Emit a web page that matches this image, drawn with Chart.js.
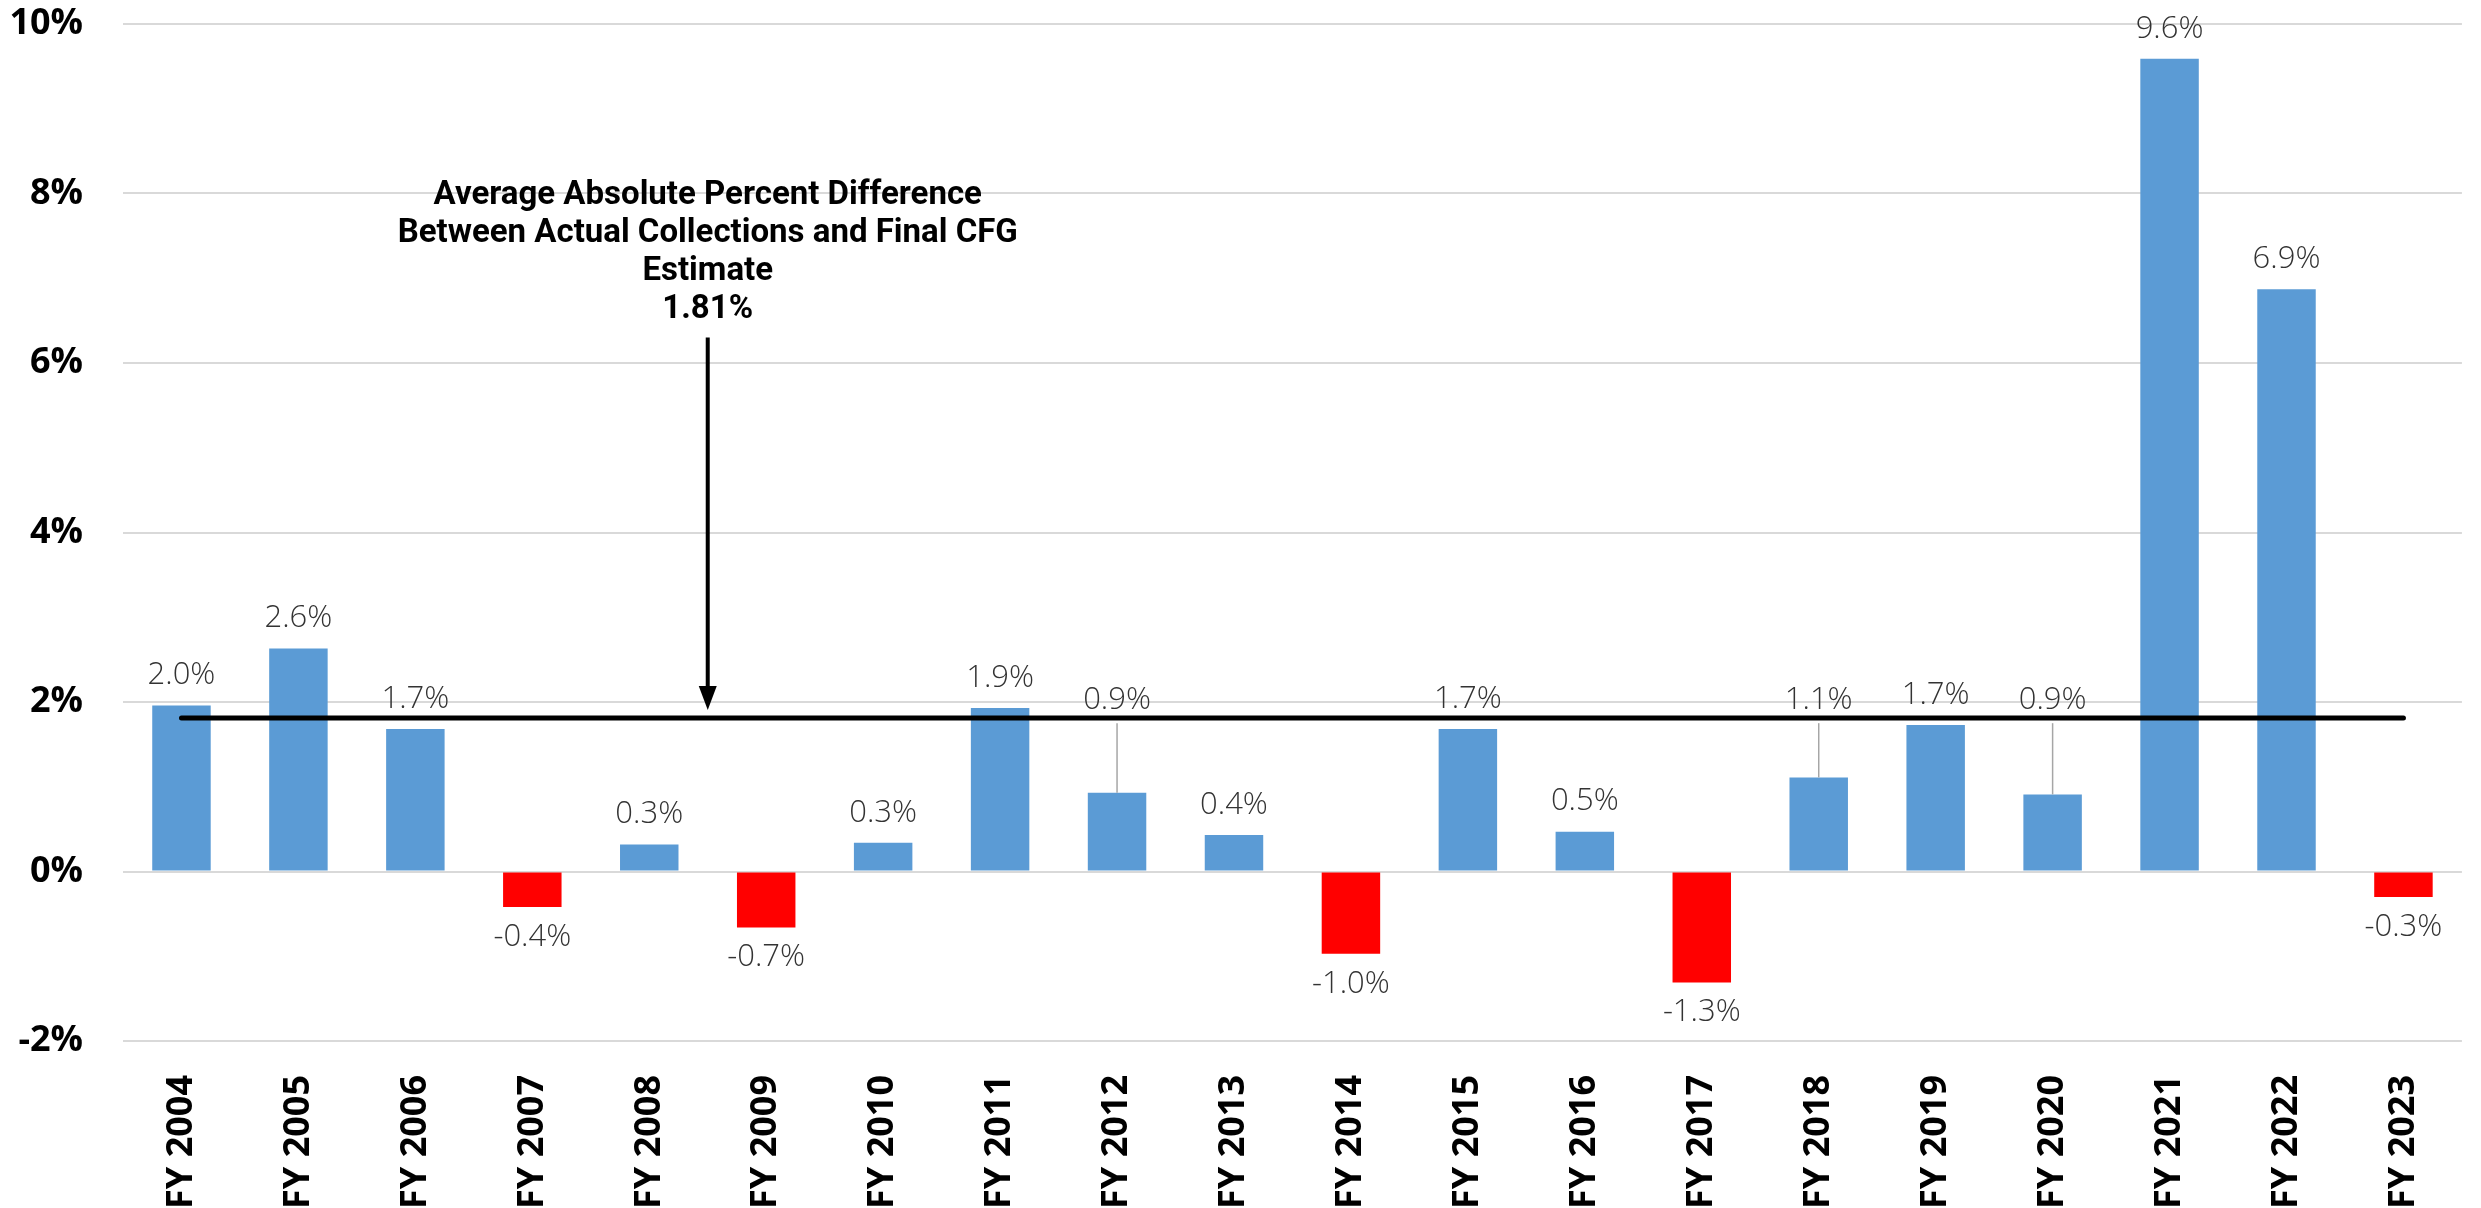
<!DOCTYPE html>
<html>
<head>
<meta charset="utf-8">
<script src="https://cdn.jsdelivr.net/npm/chart.js@4.4.1/dist/chart.umd.min.js"></script>
<style>
  html, body { margin: 0; padding: 0; background: #fff; }
  #wrap { width: 2481px; height: 1208px; }
</style>
</head>
<body>
<div id="wrap"><canvas id="cfg-chart" width="2481" height="1208"></canvas></div>
<script>
// Percent difference between actual collections and final CFG estimate
const fiscalYears = ['FY 2004', 'FY 2005', 'FY 2006', 'FY 2007', 'FY 2008', 'FY 2009', 'FY 2010',
  'FY 2011', 'FY 2012', 'FY 2013', 'FY 2014', 'FY 2015', 'FY 2016', 'FY 2017', 'FY 2018',
  'FY 2019', 'FY 2020', 'FY 2021', 'FY 2022', 'FY 2023'];
const pctDifference = [1.96, 2.63, 1.68, -0.42, 0.32, -0.66, 0.34, 1.93, 0.93, 0.43, -0.97,
  1.68, 0.47, -1.31, 1.11, 1.73, 0.91, 9.59, 6.87, -0.30];
const yTickValues = [-2, 0, 2, 4, 6, 8, 10];
const avgAbsDiff = 1.81;
const noteLines = ['Average Absolute Percent Difference', 'Between Actual Collections and Final CFG', 'Estimate', '1.81%'];
// labels that Excel pushed up above the average line, with a leader line
const leaderYears = ['FY 2012', 'FY 2018', 'FY 2020'];

const BLUE = '#5B9BD5';
const RED = '#FF0000';

const overlay = {
  id: 'cfgOverlay',
  afterDatasetsDraw(chart) {
    const ctx = chart.ctx;
    const xs = chart.scales.x, ys = chart.scales.y;
    const meta = chart.getDatasetMeta(0);
    ctx.save();

    // data labels
    ctx.font = '300 31px "Open Sans", "Noto Sans", sans-serif';
    ctx.fillStyle = '#333333';
    ctx.textAlign = 'center';
    ctx.textBaseline = 'middle';
    meta.data.forEach((bar, i) => {
      const v = pctDifference[i];
      const txt = v.toFixed(1) + '%';
      if (leaderYears.includes(fiscalYears[i])) {
        ctx.strokeStyle = '#A6A6A6';
        ctx.lineWidth = 1.5;
        ctx.beginPath();
        ctx.moveTo(bar.x, ys.getPixelForValue(1.75));
        ctx.lineTo(bar.x, bar.y);
        ctx.stroke();
        ctx.fillText(txt, bar.x, ys.getPixelForValue(2.02));
      } else if (v >= 0) {
        ctx.fillText(txt, bar.x, bar.y - 30);
      } else {
        ctx.fillText(txt, bar.x, bar.y + 30);
      }
    });

    // average line
    const yAvg = ys.getPixelForValue(avgAbsDiff);
    ctx.strokeStyle = '#000';
    ctx.lineWidth = 5;
    ctx.lineCap = 'round';
    ctx.beginPath();
    ctx.moveTo(xs.getPixelForValue(0), yAvg);
    ctx.lineTo(xs.getPixelForValue(fiscalYears.length - 1), yAvg);
    ctx.stroke();

    // note text
    const ax = (xs.getPixelForValue(4) + xs.getPixelForValue(5)) / 2;
    const top = ys.getPixelForValue(8) + 2;
    ctx.font = 'bold 33px Roboto, "Liberation Sans Narrow", sans-serif';
    ctx.fillStyle = '#000';
    noteLines.forEach((line, i) => ctx.fillText(line, ax, top + i * 38));

    // arrow
    const arrowTop = top + (noteLines.length - 1) * 38 + 28;
    const tip = yAvg - 8;
    ctx.lineCap = 'butt';
    ctx.lineWidth = 4;
    ctx.beginPath();
    ctx.moveTo(ax, arrowTop);
    ctx.lineTo(ax, tip - 20);
    ctx.stroke();
    ctx.beginPath();
    ctx.moveTo(ax - 9, tip - 24);
    ctx.lineTo(ax + 9, tip - 24);
    ctx.lineTo(ax, tip);
    ctx.closePath();
    ctx.fill();

    ctx.restore();
  }
};

new Chart(document.getElementById('cfg-chart').getContext('2d'), {
  type: 'bar',
  data: {
    labels: fiscalYears,
    datasets: [{
      data: pctDifference,
      backgroundColor: pctDifference.map(v => v < 0 ? RED : BLUE),
      borderWidth: 0,
      barPercentage: 0.5,
      categoryPercentage: 1.0
    }]
  },
  options: {
    responsive: false,
    animation: false,
    devicePixelRatio: 1,
    layout: { padding: { top: 24, right: 14, left: 0, bottom: 0 } },
    plugins: {
      legend: { display: false },
      tooltip: { enabled: false }
    },
    scales: {
      x: {
        grid: { display: false, drawTicks: false },
        border: { display: false },
        ticks: {
          minRotation: 90,
          maxRotation: 90,
          padding: 34,
          color: '#000',
          font: { family: '"Open Sans", "Noto Sans", sans-serif', size: 36, weight: 'bold' }
        },
        afterFit: s => { s.height = 167; }
      },
      y: {
        min: -2,
        max: 10,
        afterBuildTicks: s => { s.ticks = yTickValues.map(v => ({ value: v })); },
        grid: { color: '#D9D9D9', lineWidth: 2, drawTicks: false },
        border: { display: false },
        ticks: {
          padding: 40,
          color: '#000',
          font: { family: '"Open Sans", "Noto Sans", sans-serif', size: 36, weight: 'bold' },
          callback: v => v + '%'
        },
        // tick padding would otherwise push the plot top down
        afterFit: s => { s.width = 123; s.paddingTop = 20; s.paddingBottom = 20; }
      }
    }
  },
  plugins: [overlay]
});
</script>
</body>
</html>
